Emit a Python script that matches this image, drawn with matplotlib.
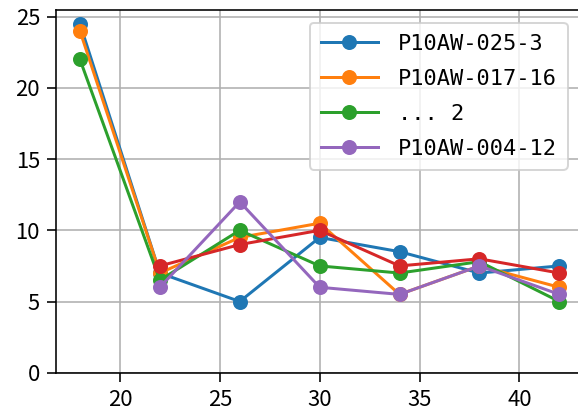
import matplotlib
matplotlib.use("Agg")
import matplotlib.pyplot as plt

plt.rcParams['font.family'] = ['Noto Sans CJK JP', 'DejaVu Sans']
plt.rcParams['font.size'] = 11

# data (red and purple have no point at 18)
nan = float('nan')
x = [18, 22, 26, 30, 34, 38, 42]
blue = [24.5, 7.0, 5.0, 9.5, 8.5, 7.0, 7.5]
orange = [24.0, 7.0, 9.5, 10.5, 5.5, 7.5, 6.0]
green = [22.0, 6.5, 10.0, 7.5, 7.0, 7.8, 5.0]
red = [nan, 7.5, 9.0, 10.0, 7.5, 8.0, 7.0]
purple = [nan, 6.0, 12.0, 6.0, 5.5, 7.5, 5.5]

labels = ['P10AW-025-3', 'P10AW-017-16', '... 2', 'P10AW-004-12']

fig = plt.figure(figsize=(578 / 144, 412 / 144), dpi=144)
ax = fig.add_axes([56 / 578, 39.3 / 412, 527.3 / 578, 362.7 / 412])

ms = 6.5
ax.plot(x, blue, marker='o', ms=ms, color='C0', label=labels[0])
ax.plot(x, orange, marker='o', ms=ms, color='C1', label=labels[1])
ax.plot(x, green, marker='o', ms=ms, color='C2', label=labels[2])
ax.plot(x, red, marker='o', ms=ms, color='C3', label='_nolegend_')
ax.plot(x, purple, marker='o', ms=ms, color='C4', label=labels[3])

ax.set_xlim(16.8, 43.2)
ax.set_ylim(bottom=0)
ax.set_xticks([20, 25, 30, 35, 40])
ax.tick_params(length=4.5)
ax.grid(True)

ax.legend(loc='upper right', bbox_to_anchor=(567.7 / 578, (412 - 22.7) / 412),
          bbox_transform=fig.transFigure, borderaxespad=0,
          prop={'family': 'DejaVu Sans Mono', 'size': 11},
          handlelength=2.6, handletextpad=0.9, labelspacing=0.68, borderpad=0.5)

fig.savefig('out.png', dpi=144)
